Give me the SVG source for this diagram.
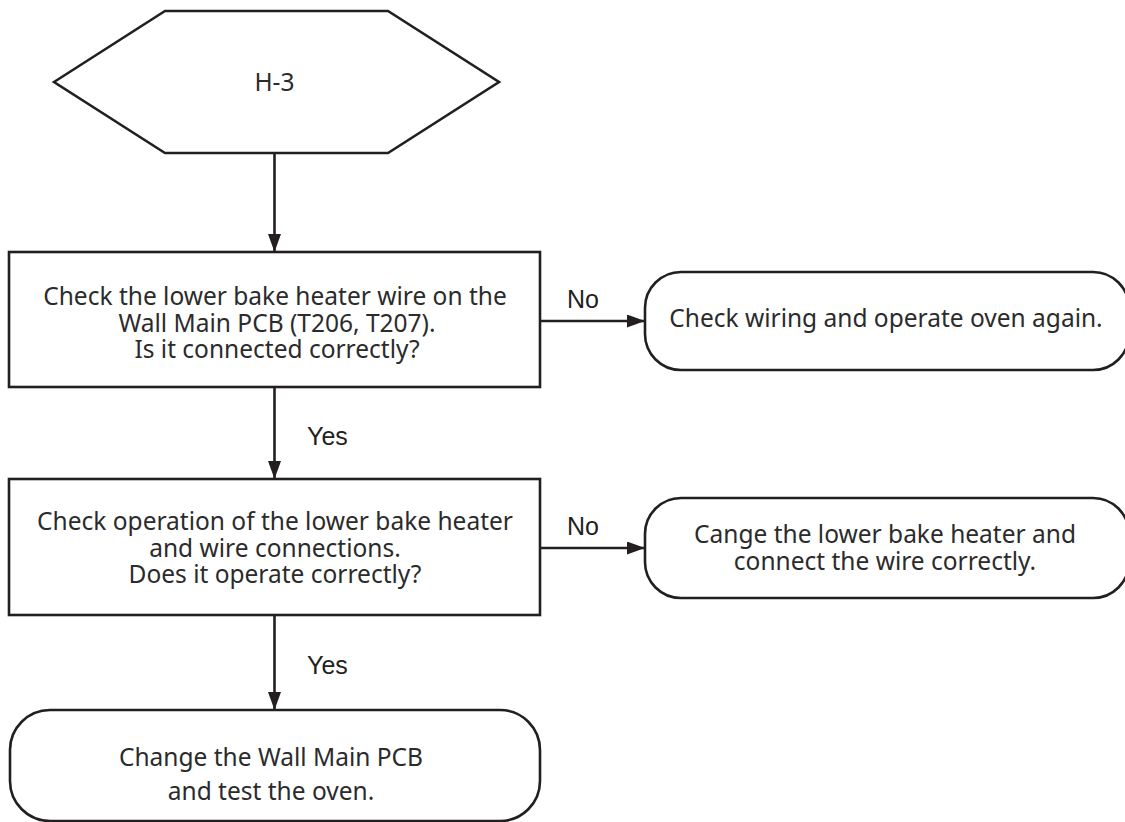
<svg xmlns="http://www.w3.org/2000/svg" width="1125" height="822" viewBox="0 0 1125 822">
<style>
.shape{fill:#ffffff;stroke:#231f20;stroke-width:2.6}
.line{fill:none;stroke:#231f20;stroke-width:2.6}
.body{font-family:"Noto Sans","Liberation Sans",sans-serif;font-size:24.5px;fill:#2b2b2b;text-anchor:middle}
.lbl{font-family:"Liberation Sans",Arial,sans-serif;font-size:25px;fill:#231f20}
</style>
<defs>
<marker id="arr" markerUnits="userSpaceOnUse" markerWidth="18" markerHeight="13" refX="18" refY="6.5" orient="auto">
<path d="M0,0 L18,6.5 L0,13 z" fill="#231f20"/>
</marker>
</defs>
<rect width="1125" height="822" fill="#ffffff"/>
<g id="connectors">
<line class="line" x1="274.5" y1="153" x2="274.5" y2="252" marker-end="url(#arr)"/>
<line class="line" x1="274.5" y1="387" x2="274.5" y2="479" marker-end="url(#arr)"/>
<line class="line" x1="274.5" y1="615" x2="274.5" y2="710" marker-end="url(#arr)"/>
<line class="line" x1="540" y1="321" x2="645" y2="321" marker-end="url(#arr)"/>
<line class="line" x1="540" y1="548" x2="645" y2="548" marker-end="url(#arr)"/>
<text class="lbl" x="567" y="308">No</text>
<text class="lbl" x="567" y="535">No</text>
<text class="lbl" x="307" y="445">Yes</text>
<text class="lbl" x="307" y="674">Yes</text>
</g>
<g id="start">
<polygon class="shape" points="54,82 165,11 388,11 499,82 388,153 165,153"/>
<text class="body" x="274.5" y="91">H-3</text>
</g>
<g id="check1">
<rect class="shape" x="9" y="252" width="531" height="135"/>
<text class="body" x="275" y="305">Check the lower bake heater wire on the</text>
<text class="body" x="277" y="331.5">Wall Main PCB (T206, T207).</text>
<text class="body" x="277" y="357.5">Is it connected correctly?</text>
</g>
<g id="fix1">
<rect class="shape" x="645" y="272" width="484" height="98" rx="36" ry="36"/>
<text class="body" x="886" y="327">Check wiring and operate oven again.</text>
</g>
<g id="check2">
<rect class="shape" x="9" y="479" width="531" height="136"/>
<text class="body" x="275" y="529.5">Check operation of the lower bake heater</text>
<text class="body" x="275" y="556.5">and wire connections.</text>
<text class="body" x="275" y="583">Does it operate correctly?</text>
</g>
<g id="fix2">
<rect class="shape" x="645" y="498" width="484" height="100" rx="36" ry="36"/>
<text class="body" x="885" y="543">Cange the lower bake heater and</text>
<text class="body" x="885" y="570">connect the wire correctly.</text>
</g>
<g id="replace">
<rect class="shape" x="10" y="710" width="530" height="111" rx="40" ry="40"/>
<text class="body" x="271" y="766">Change the Wall Main PCB</text>
<text class="body" x="271" y="800">and test the oven.</text>
</g>
</svg>
